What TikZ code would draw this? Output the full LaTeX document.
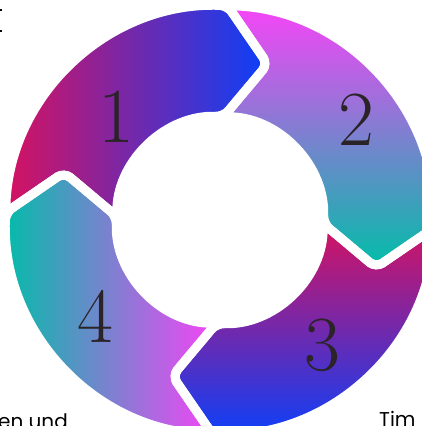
\documentclass[tikz,border=0pt]{standalone}
\usepackage{fontspec}
\newfontfamily\popfont{Poppins}
\definecolor{crim}{RGB}{214,18,96}
\definecolor{blu}{RGB}{10,64,250}
\definecolor{pnk}{RGB}{247,68,247}
\definecolor{tea}{RGB}{0,190,168}
\definecolor{ink}{RGB}{42,35,40}
\def\Ro{214.5}
\def\Ri{103.5}
\def\Rt{163}
\newcommand\segpath[1]{({#1}:\Ro) arc[start angle={#1}, end angle={#1-90}, radius=\Ro] -- ({#1-105}:\Rt) -- ({#1-90}:\Ri) arc[start angle={#1-90}, end angle={#1}, radius=\Ri] -- ({#1-15}:\Rt) -- cycle}
\tikzset{
  gapline/.style={draw=white, line width=9pt, rounded corners=8pt},
  segfill/.style={rounded corners=8pt},
  numtext/.style={text=ink, inner sep=0pt, font=\fontsize{78}{78}\selectfont},
  captext/.style={text=black, inner sep=0pt, font=\popfont\fontsize{20}{24}\selectfont}
}
\begin{document}
\begin{tikzpicture}[x=1pt,y=1pt]
\useasboundingbox (0,0) rectangle (422,426);
\fill[white] (0,0) rectangle (422,426);
\begin{scope}[shift={(220,206)}]
  \shade[segfill, left color=crim, right color=blu] \segpath{178};
  \shade[segfill, top color=pnk, bottom color=tea] \segpath{88};
  \shade[segfill, top color=crim, bottom color=blu] \segpath{-2};
  \shade[segfill, left color=tea, right color=pnk] \segpath{-92};
  \path[gapline] \segpath{178};
  \path[gapline] \segpath{88};
  \path[gapline] \segpath{-2};
  \path[gapline] \segpath{-92};
\end{scope}
\node[numtext] (n1) at (116,309) {1};
\node[numtext] (n2) at (356,306) {2};
\node[numtext] (n3) at (322,81) {3};
\node[numtext] (n4) at (95,110) {4};
\node[captext, anchor=base east] (t1) at (68,-2) {en und};
\node[captext, anchor=base west] (t2) at (379,-1) {Tim};
\fill[black] (0,414.5) rectangle (1.5,417);
\fill[black] (0,393.5) rectangle (1.5,396);
\end{tikzpicture}
\end{document}
